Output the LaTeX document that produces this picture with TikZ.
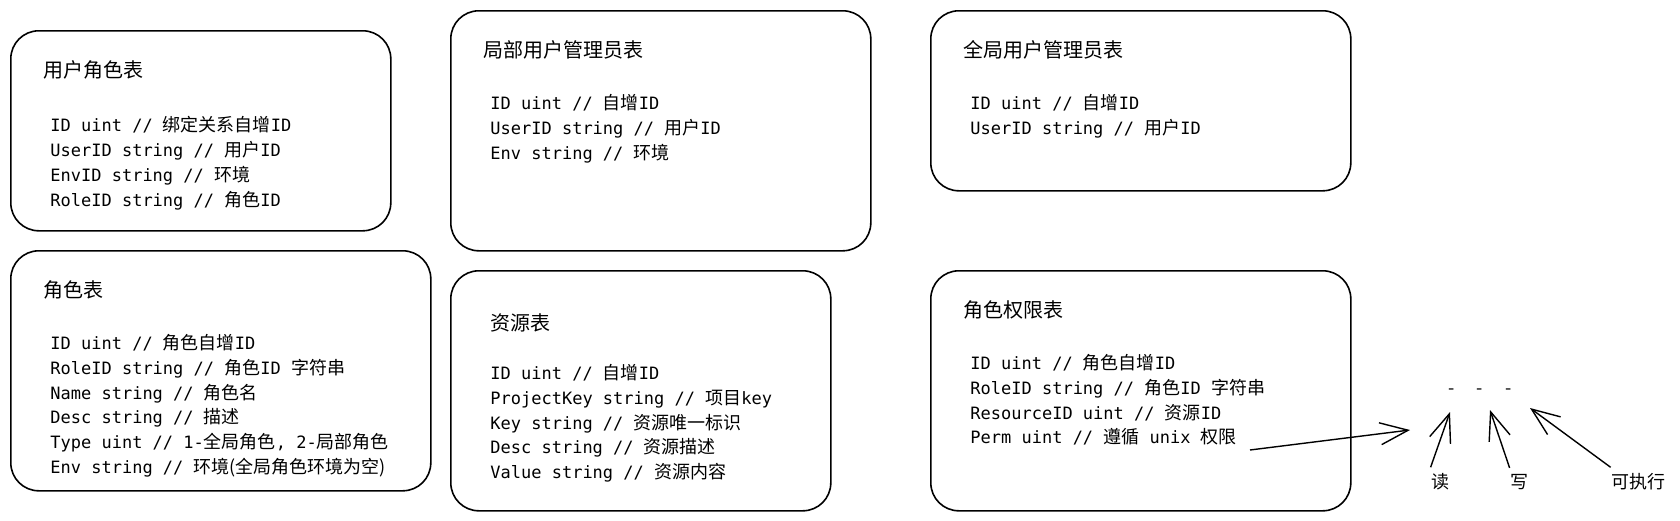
\documentclass[tikz,border=0pt]{standalone}
\usepackage{fontspec}
\newfontfamily\zhfont{Noto Sans CJK SC}
\newfontfamily\codefont{DejaVu Sans Mono}
\newcommand\zh[1]{{\zhfont\fontsize{9}{12.4}\selectfont #1}}
\usetikzlibrary{arrows.meta}

\tikzset{
	tablebox/.style={draw, line width=0.8pt, rounded corners=14pt, anchor=north west, inner sep=0pt},
	tabletitle/.style={anchor=west, inner sep=0pt, font=\zhfont\fontsize{10}{12}\selectfont},
	tablefields/.style={anchor=north west, inner sep=0pt, align=left, font=\codefont\fontsize{8.5}{12.4}\selectfont},
	permarrow/.style={-{Straight Barb[length=14pt, width=11pt]}, line width=0.7pt},
	bitlabel/.style={inner sep=0pt, font=\zhfont\fontsize{9}{11}\selectfont},
}

\begin{document}
\begin{tikzpicture}[x=0.5pt, y=-0.5pt]
		\useasboundingbox (0,0) rectangle (1680,520);

		% tables
		\node (userrole) [tablebox, minimum width=190pt, minimum height=100pt] at (10,30) {};
		\node (userroleT) [tabletitle] at (43,70) {用户角色表};
		\node (userroleF) [tablefields] at (50,116) {
			ID uint // \zh{绑定关系自增}ID \\
			UserID string // \zh{用户}ID \\
			EnvID string // \zh{环境} \\
			RoleID string // \zh{角色}ID
		};

		\node (role) [tablebox, minimum width=210pt, minimum height=120pt] at (10,250) {};
		\node (roleT) [tabletitle] at (43,290) {角色表};
		\node (roleF) [tablefields] at (50,334) {
			ID uint // \zh{角色自增}ID \\
			RoleID string // \zh{角色}ID \zh{字符串} \\
			Name string // \zh{角色名} \\
			Desc string // \zh{描述} \\
			Type uint // 1-\zh{全局角色}, 2-\zh{局部角色} \\
			Env string // \zh{环境(全局角色环境为空)}
		};

		\node (localadmin) [tablebox, minimum width=210pt, minimum height=120pt] at (450,10) {};
		\node (localadminT) [tabletitle] at (483,50) {局部用户管理员表};
		\node (localadminF) [tablefields] at (490,94) {
			ID uint // \zh{自增}ID \\
			UserID string // \zh{用户}ID \\
			Env string // \zh{环境}
		};

		\node (resource) [tablebox, minimum width=190pt, minimum height=120pt] at (450,270) {};
		\node (resourceT) [tabletitle] at (490,323) {资源表};
		\node (resourceF) [tablefields] at (490,364) {
			ID uint // \zh{自增}ID \\
			ProjectKey string // \zh{项目}key \\
			Key string // \zh{资源唯一标识} \\
			Desc string // \zh{资源描述} \\
			Value string // \zh{资源内容}
		};

		\node (globaladmin) [tablebox, minimum width=210pt, minimum height=90pt] at (930,10) {};
		\node (globaladminT) [tabletitle] at (963,50) {全局用户管理员表};
		\node (globaladminF) [tablefields] at (970,94) {
			ID uint // \zh{自增}ID \\
			UserID string // \zh{用户}ID
		};

		\node (roleperm) [tablebox, minimum width=210pt, minimum height=120pt] at (930,270) {};
		\node (rolepermT) [tabletitle] at (963,310) {角色权限表};
		\node (rolepermF) [tablefields] at (970,354) {
			ID uint // \zh{角色自增}ID \\
			RoleID string // \zh{角色}ID \zh{字符串} \\
			ResourceID uint // \zh{资源}ID \\
			Perm uint // \zh{遵循} unix \zh{权限}
		};

		% perm bits
		\node (bits) [bitlabel] at (1480,392) {-\hspace{11pt}-\hspace{11pt}-};
		\node (read) [bitlabel] at (1440,482) {读};
		\node (write) [bitlabel] at (1519,482) {写};
		\node (exec) [bitlabel] at (1638,482) {可执行};

		\coordinate (permtail) at (1250,450);
		\coordinate (permtip) at (1410,430);
		\coordinate (readtip) at (1450,412);
		\coordinate (writetip) at (1490,410);
		\coordinate (exectip) at (1530,408);

		\draw[permarrow] (permtail) -- (permtip);
		\draw[permarrow] ([yshift=3pt]read.north west) -- (readtip);
		\draw[permarrow] ([yshift=3pt]write.north west) -- (writetip);
		\draw[permarrow] ([yshift=3pt]exec.north west) -- (exectip);
	\end{tikzpicture}
\end{document}
